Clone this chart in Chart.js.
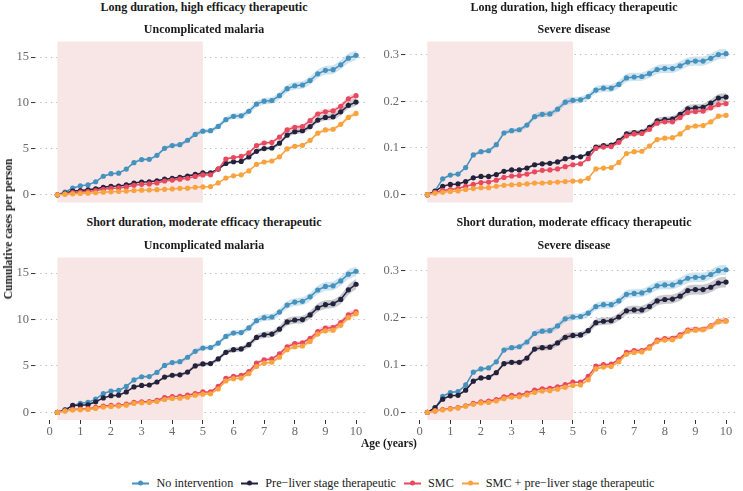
<!DOCTYPE html>
<html>
<head>
<meta charset="utf-8">
<script src="https://cdn.jsdelivr.net/npm/chart.js@4/dist/chart.umd.min.js"></script>
<style>
  body { margin: 0; background: #fff; }
  #wrap { position: relative; width: 743px; height: 491px; overflow: hidden; font-family: "Liberation Serif", "DejaVu Serif", serif; }
  canvas { position: absolute; }
  .t { position: absolute; transform: translate(-50%, -50%); white-space: nowrap; font-weight: bold; font-size: 12px; color: #1a1a1a; }
  #ytitle { position: absolute; left: 8px; top: 229px; transform: translate(-50%, -50%) rotate(-90deg); white-space: nowrap; font-weight: bold; font-size: 11.5px; color: #1a1a1a; }
  #legend { position: absolute; left: 0; width: 787px; top: 483px; transform: translateY(-50%); display: flex; justify-content: center; align-items: center; font-family: "Liberation Serif", "DejaVu Serif", serif; font-size: 12.2px; color: #1a1a1a; }
  .item { display: flex; align-items: center; margin: 0 4px; }
  .key { position: relative; width: 17px; height: 10px; margin-right: 7px; }
  .key i { position: absolute; left: 0; right: 0; top: 4px; height: 2px; }
  .key b { position: absolute; left: 6px; top: 2.5px; width: 5px; height: 5px; border-radius: 50%; }
</style>
</head>
<body>
<div id="wrap">
  <canvas id="c_tl" width="372" height="180" style="left:0px;top:32px"></canvas>
  <canvas id="c_tr" width="372" height="180" style="left:370px;top:32px"></canvas>
  <canvas id="c_bl" width="372" height="194" style="left:0px;top:248px"></canvas>
  <canvas id="c_br" width="372" height="194" style="left:370px;top:248px"></canvas>

  <div class="t" style="left:204px;top:7px">Long duration, high efficacy therapeutic</div>
  <div class="t" style="left:574px;top:7px">Long duration, high efficacy therapeutic</div>
  <div class="t" style="left:204px;top:29px">Uncomplicated malaria</div>
  <div class="t" style="left:574px;top:29px">Severe disease</div>
  <div class="t" style="left:204px;top:222px">Short duration, moderate efficacy therapeutic</div>
  <div class="t" style="left:574px;top:222px">Short duration, moderate efficacy therapeutic</div>
  <div class="t" style="left:204px;top:245px">Uncomplicated malaria</div>
  <div class="t" style="left:574px;top:245px">Severe disease</div>
  <div class="t" style="left:389px;top:443px;font-size:11.5px">Age (years)</div>
  <div id="ytitle">Cumulative cases per person</div>
  <div id="legend"></div>
</div>

<script>
// ages in years (x values)
var AGE = [0.25, 0.5, 0.75, 1, 1.25, 1.5, 1.75, 2, 2.25, 2.5, 2.75, 3, 3.25, 3.5, 3.75, 4,
           4.25, 4.5, 4.75, 5, 5.25, 5.5, 5.75, 6, 6.25, 6.5, 6.75, 7, 7.25, 7.5, 7.75, 8,
           8.25, 8.5, 8.75, 9, 9.25, 9.5, 9.75, 10];

var SERIES_NAMES = ["No intervention", "Pre\u2212liver stage therapeutic", "SMC", "SMC + pre\u2212liver stage therapeutic"];
var SERIES_COLORS = ["#4592bf", "#23223d", "#e9495f", "#f9a33f"];
// relative half-width of the uncertainty ribbon
var BAND_FRAC = [0.035, 0.04, 0.03, 0.03];

// shaded window (years)
var SHADE_FROM = 0.25, SHADE_TO = 5;

var X_TICKS = [0, 1, 2, 3, 4, 5, 6, 7, 8, 9, 10];
var UNC_TICKS = [0, 5, 10, 15];
var SEV_TICKS = [0, 0.1, 0.2, 0.3];

var SERIF = "'Liberation Serif', 'DejaVu Serif', serif";

// ---- uncomplicated malaria ----
var noint_unc = [0, 0.3, 0.72, 0.98, 1.08, 1.42, 2.02, 2.3, 2.36, 2.8, 3.5, 3.84, 3.86, 4.3, 5.06, 5.36, 5.46, 5.94, 6.58, 6.93, 6.98, 7.45, 8.18, 8.55, 8.6, 9.1, 9.88, 10.2, 10.27, 10.8, 11.56, 11.88, 11.96, 12.44, 13.18, 13.56, 13.63, 14.16, 14.88, 15.19];

var long_pre_unc = [0, 0.18, 0.4, 0.46, 0.55, 0.65, 0.82, 0.93, 0.96, 1.07, 1.28, 1.38, 1.42, 1.52, 1.7, 1.8, 1.9, 2.04, 2.22, 2.38, 2.4, 2.8, 3.42, 3.6, 3.64, 4.12, 4.74, 5.04, 5.1, 5.62, 6.5, 6.88, 6.98, 7.43, 8.14, 8.43, 8.5, 9.04, 9.75, 10.1];
var long_smc_unc = [0, 0.1, 0.25, 0.3, 0.36, 0.46, 0.6, 0.7, 0.75, 0.86, 1.04, 1.14, 1.18, 1.29, 1.5, 1.6, 1.7, 1.8, 2.0, 2.16, 2.18, 2.8, 3.9, 4.05, 4.18, 4.57, 5.36, 5.64, 5.71, 6.29, 7.07, 7.36, 7.43, 8.07, 8.8, 9.04, 9.14, 9.64, 10.46, 10.8];
var long_both_unc = [0, 0.07, 0.1, 0.14, 0.18, 0.22, 0.28, 0.32, 0.36, 0.4, 0.46, 0.5, 0.52, 0.56, 0.6, 0.64, 0.7, 0.72, 0.82, 0.86, 0.89, 1.29, 1.82, 2.07, 2.18, 2.6, 3.32, 3.57, 3.68, 4.14, 5.0, 5.29, 5.39, 5.93, 6.71, 7.07, 7.14, 7.68, 8.43, 8.86];

var short_pre_unc = [0, 0.25, 0.75, 0.78, 0.82, 1.14, 1.56, 1.8, 1.85, 2.2, 2.74, 2.9, 2.95, 3.27, 3.8, 4.0, 4.05, 4.34, 5.0, 5.22, 5.26, 5.76, 6.47, 6.75, 6.83, 7.29, 8.07, 8.35, 8.43, 8.96, 9.74, 9.95, 10.0, 10.5, 11.27, 11.6, 11.7, 12.16, 13.2, 13.8];
var short_smc_unc = [0, 0.18, 0.32, 0.36, 0.4, 0.53, 0.68, 0.75, 0.78, 0.89, 1.07, 1.14, 1.17, 1.3, 1.6, 1.7, 1.74, 1.85, 2.03, 2.2, 2.2, 2.8, 3.66, 3.87, 3.98, 4.4, 5.3, 5.65, 5.76, 6.3, 7.07, 7.4, 7.5, 7.96, 8.7, 9.07, 9.14, 9.67, 10.5, 10.84];
var short_both_unc = [0, 0.14, 0.25, 0.28, 0.32, 0.43, 0.57, 0.64, 0.68, 0.78, 0.96, 1.03, 1.07, 1.17, 1.39, 1.5, 1.53, 1.64, 1.85, 1.96, 2.0, 2.52, 3.38, 3.63, 3.7, 4.16, 4.94, 5.3, 5.4, 5.94, 6.75, 7.07, 7.15, 7.64, 8.43, 8.78, 8.85, 9.38, 10.2, 10.63];

// ---- severe disease ----
var noint_sev = [0, 0.008, 0.034, 0.042, 0.044, 0.058, 0.085, 0.092, 0.094, 0.107, 0.132, 0.137, 0.139, 0.149, 0.167, 0.172, 0.173, 0.183, 0.198, 0.202, 0.203, 0.21, 0.224, 0.228, 0.228, 0.236, 0.25, 0.252, 0.253, 0.259, 0.268, 0.27, 0.27, 0.276, 0.284, 0.286, 0.286, 0.292, 0.3, 0.302];

var long_pre_sev = [0, 0.007, 0.018, 0.022, 0.023, 0.028, 0.036, 0.039, 0.039, 0.043, 0.05, 0.053, 0.053, 0.057, 0.064, 0.066, 0.067, 0.07, 0.077, 0.08, 0.081, 0.088, 0.102, 0.105, 0.106, 0.116, 0.13, 0.133, 0.134, 0.144, 0.158, 0.161, 0.162, 0.172, 0.184, 0.186, 0.187, 0.196, 0.207, 0.209];
var long_smc_sev = [0, 0.005, 0.009, 0.011, 0.013, 0.018, 0.022, 0.026, 0.027, 0.031, 0.037, 0.04, 0.041, 0.044, 0.049, 0.052, 0.053, 0.055, 0.06, 0.064, 0.066, 0.077, 0.099, 0.102, 0.103, 0.112, 0.126, 0.13, 0.131, 0.14, 0.153, 0.156, 0.156, 0.165, 0.176, 0.178, 0.179, 0.186, 0.193, 0.195];
var long_both_sev = [0, 0.003, 0.005, 0.007, 0.008, 0.011, 0.013, 0.015, 0.015, 0.018, 0.02, 0.021, 0.022, 0.023, 0.025, 0.025, 0.026, 0.027, 0.028, 0.029, 0.029, 0.035, 0.055, 0.057, 0.058, 0.069, 0.088, 0.092, 0.093, 0.104, 0.118, 0.121, 0.122, 0.13, 0.144, 0.147, 0.148, 0.156, 0.168, 0.17];

var short_pre_sev = [0, 0.01, 0.028, 0.035, 0.036, 0.047, 0.066, 0.073, 0.074, 0.084, 0.103, 0.106, 0.106, 0.115, 0.134, 0.137, 0.138, 0.147, 0.159, 0.163, 0.164, 0.173, 0.19, 0.193, 0.194, 0.202, 0.215, 0.217, 0.217, 0.224, 0.236, 0.239, 0.24, 0.246, 0.258, 0.26, 0.26, 0.265, 0.274, 0.276];
var short_smc_sev = [0, 0.003, 0.006, 0.008, 0.01, 0.014, 0.019, 0.022, 0.024, 0.027, 0.033, 0.036, 0.037, 0.041, 0.047, 0.05, 0.051, 0.054, 0.059, 0.064, 0.064, 0.076, 0.098, 0.101, 0.102, 0.112, 0.127, 0.131, 0.131, 0.139, 0.153, 0.156, 0.157, 0.164, 0.174, 0.176, 0.176, 0.183, 0.193, 0.194];
var short_both_sev = [0, 0.003, 0.005, 0.007, 0.009, 0.013, 0.017, 0.02, 0.021, 0.024, 0.029, 0.032, 0.033, 0.037, 0.042, 0.045, 0.046, 0.049, 0.053, 0.057, 0.058, 0.069, 0.092, 0.096, 0.097, 0.107, 0.123, 0.127, 0.128, 0.136, 0.15, 0.153, 0.154, 0.161, 0.172, 0.174, 0.175, 0.182, 0.192, 0.193];


function hexA(hex, a) {
  var n = parseInt(hex.slice(1), 16);
  return "rgba(" + (n >> 16) + "," + ((n >> 8) & 255) + "," + (n & 255) + "," + a + ")";
}

function pts(vals, k) {
  return AGE.map(function (x, i) { return { x: x, y: vals[i] * k }; });
}

// pink window, drawn over the grid but under the lines (as in the original)
var shadePlugin = {
  id: "shade",
  beforeDatasetsDraw: function (chart) {
    var ctx = chart.ctx, a = chart.chartArea, xs = chart.scales.x;
    var x0 = xs.getPixelForValue(SHADE_FROM), x1 = xs.getPixelForValue(SHADE_TO);
    ctx.save();
    ctx.fillStyle = "#f8e6e6";
    ctx.fillRect(x0, a.top, x1 - x0, a.bottom - a.top);
    ctx.restore();
  }
};

function makePanel(id, series, yMin, yMax, yTicks, showX, decimals) {
  var lines = [], bands = [];
  // later series drawn on top -> first in the list
  for (var s = series.length - 1; s >= 0; s--) {
    lines.push({
      data: pts(series[s], 1),
      borderColor: SERIES_COLORS[s],
      backgroundColor: SERIES_COLORS[s],
      borderWidth: 1.5,
      pointRadius: 2.6,
      pointBorderWidth: 0,
      pointBackgroundColor: SERIES_COLORS[s],
      tension: 0,
      fill: false
    });
  }
  for (var s = series.length - 1; s >= 0; s--) {
    bands.push({
      data: pts(series[s], 1 + BAND_FRAC[s]),
      borderWidth: 0, pointRadius: 0,
      backgroundColor: hexA(SERIES_COLORS[s], 0.25),
      fill: "+1", tension: 0.3
    });
    bands.push({
      data: pts(series[s], 1 - BAND_FRAC[s]),
      borderWidth: 0, pointRadius: 0,
      backgroundColor: "rgba(0,0,0,0)",
      fill: false, tension: 0.3
    });
  }

  new Chart(document.getElementById(id), {
    type: "line",
    data: { datasets: lines.concat(bands) },
    plugins: [shadePlugin],
    options: {
      responsive: false,
      animation: false,
      devicePixelRatio: 1,
      layout: { padding: { top: 8, bottom: showX ? 0 : 8, left: 0, right: 0 } },
      plugins: { legend: { display: false }, tooltip: { enabled: false } },
      events: [],
      scales: {
        x: {
          type: "linear",
          min: -0.48, max: 10.39,
          display: showX,
          afterBuildTicks: function (sc) { sc.ticks = X_TICKS.map(function (v) { return { value: v }; }); },
          afterFit: function (sc) { if (showX) sc.height = 22; },
          grid: { drawOnChartArea: false, drawTicks: true, tickLength: 4, tickColor: "#333", tickWidth: 1 },
          border: { display: false },
          ticks: { padding: 0, color: "#6b6b6b", font: { family: SERIF, size: 12.5 } }
        },
        y: {
          type: "linear",
          min: yMin, max: yMax,
          afterBuildTicks: function (sc) { sc.ticks = yTicks.map(function (v) { return { value: v }; }); },
          afterFit: function (sc) { sc.width = 35; },
          grid: { color: "#b9b9b9", lineWidth: 1.1, drawTicks: true, tickLength: 4, tickColor: "#333", tickWidth: 1 },
          border: { display: false, dash: [1.3, 4] },
          ticks: {
            padding: 2, color: "#6b6b6b",
            font: { family: SERIF, size: 12.5 },
            callback: function (v) { return Number(v).toFixed(decimals); }
          }
        }
      }
    }
  });
}

makePanel("c_tl", [noint_unc, long_pre_unc, long_smc_unc, long_both_unc], -0.84, 16.7, UNC_TICKS, false, 0);
makePanel("c_tr", [noint_sev, long_pre_sev, long_smc_sev, long_both_sev], -0.0168, 0.328, SEV_TICKS, false, 1);
makePanel("c_bl", [noint_unc, short_pre_unc, short_smc_unc, short_both_unc], -0.82, 16.68, UNC_TICKS, true, 0);
makePanel("c_br", [noint_sev, short_pre_sev, short_smc_sev, short_both_sev], -0.0162, 0.328, SEV_TICKS, true, 1);

// legend
var leg = document.getElementById("legend");
SERIES_NAMES.forEach(function (name, i) {
  var it = document.createElement("div");
  it.className = "item";
  it.innerHTML = '<span class="key"><i style="background:' + SERIES_COLORS[i] + '"></i><b style="background:' + SERIES_COLORS[i] + '"></b></span>' + name;
  leg.appendChild(it);
});
</script>
</body>
</html>
